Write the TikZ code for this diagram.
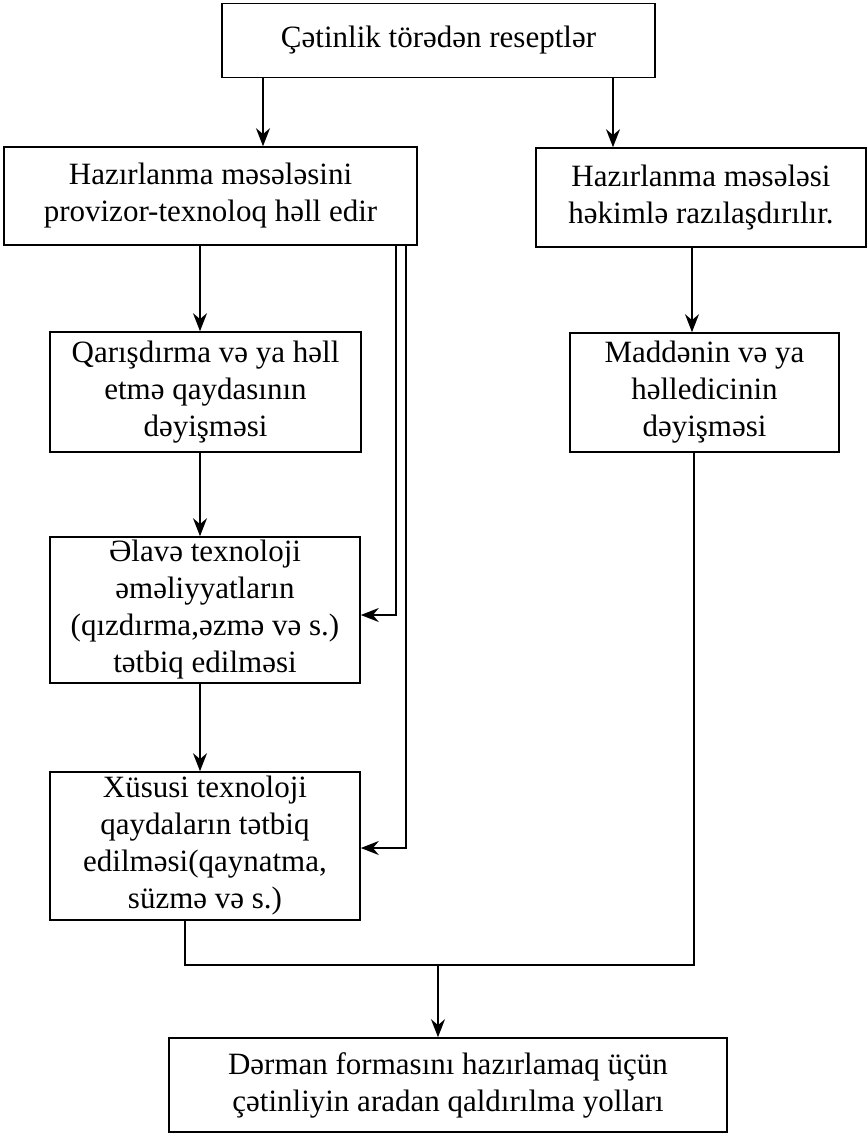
\documentclass[tikz,border=0pt]{standalone}
\usepackage{fontspec}
\setmainfont{Liberation Serif}
\usepackage{tikz}
\usetikzlibrary{arrows.meta, positioning, calc}

\begin{document}
\begin{tikzpicture}[x=0.5pt, y=-0.5pt,
		box/.style={draw, line width=0.8pt, align=center, inner sep=0pt,
			font=\fontsize{15.5}{18.5}\selectfont},
		arr/.style={line width=0.7pt, -{Stealth[length=9pt, width=7pt]}},
		link/.style={line width=0.7pt}]
	\useasboundingbox (0,0) rectangle (868,1136);
	% boxes
	\node[box, minimum width=216.5pt, minimum height=37pt] (top) at (438.5,40.5) {Çətinlik törədən reseptlər};
	\node[box, minimum width=206.5pt, minimum height=49pt] (hl) at (210.5,196) {Hazırlanma məsələsini\\provizor-texnoloq həll edir};
	\node[box, minimum width=165pt, minimum height=49.5pt] (hr) at (701,197.5) {Hazırlanma məsələsi\\həkimlə razılaşdırılır.};
	\node[box, minimum width=155.5pt, minimum height=60pt] (q) at (205.5,392) {Qarışdırma və ya həll\\etmə qaydasının\\dəyişməsi};
	\node[box, minimum width=134.5pt, minimum height=59.5pt] (m) at (704.5,392.5) {Maddənin və ya\\həlledicinin\\dəyişməsi};
	\node[box, minimum width=155pt, minimum height=73pt] (e) at (205,610) {Əlavə texnoloji\\əməliyyatların\\(qızdırma,əzmə və s.)\\tətbiq edilməsi};
	\node[box, minimum width=155pt, minimum height=74pt] (x) at (205,846) {Xüsusi texnoloji\\qaydaların tətbiq\\edilməsi(qaynatma,\\süzmə və s.)};
	\node[box, minimum width=279pt, minimum height=47pt] (d) at (448,1085) {Dərman formasını hazırlamaq üçün\\çətinliyin aradan qaldırılma yolları};
	% arrows
	\draw[arr] (top.south -| 263,0) -- (hl.north -| 263,0);
	\draw[arr] (top.south -| 613,0) -- (hr.north -| 613,0);
	\draw[arr] (hr.south -| 692,0) -- (m.north -| 692,0);
	\foreach \a/\b in {hl/q, q/e, e/x}
		\draw[arr] (\a.south -| 200,0) -- (\b.north -| 200,0);
	\draw[arr] (hl.south -| 396,0) |- (e.east |- 0,615);
	\draw[arr] (hl.south -| 406,0) |- (x.east |- 0,848);
	\coordinate (join) at (438,965);
	\draw[link] (x.south -| 185,0) |- (join) -| (m.south -| 694,0);
	\draw[arr] (join) -- (d.north -| join);
\end{tikzpicture}
\end{document}
